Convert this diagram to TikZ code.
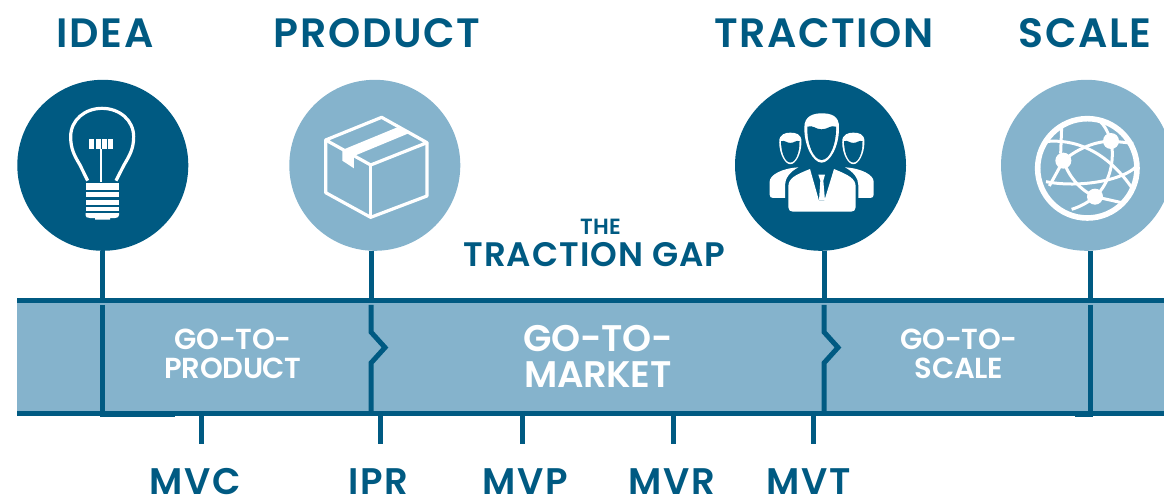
\documentclass[tikz,border=0pt]{standalone}
\usepackage{fontspec}
\setmainfont{Poppins SemiBold}
\definecolor{navy}{HTML}{005A82}
\definecolor{sky}{HTML}{85B3CC}
\newcommand{\fs}[3]{\fontsize{#1}{#2}\selectfont\addfontfeature{LetterSpace=#3}}
\tikzset{
  disc/.style={circle,minimum size=171pt,inner sep=0pt,draw=none},
  darkdisc/.style={disc,fill=navy},
  lightdisc/.style={disc,fill=sky},
  rail/.style={draw=navy,line width=5pt},
  icon/.style={draw=white,line width=3.2pt},
  heading/.style={text=navy,inner sep=0pt,anchor=base,font=\fs{41}{41}{4}},
  metric/.style={text=navy,inner sep=0pt,anchor=base,font=\fs{37}{37}{5}},
  phase/.style={text=white,inner sep=0pt,align=center,font=\fs{29}{29}{-1}},
  bigphase/.style={text=white,inner sep=0pt,align=center,font=\fs{37}{36.5}{-1}},
}
\begin{document}
\begin{tikzpicture}[x=1pt,y=-1pt]
\useasboundingbox (0,0) rectangle (1164,501);
% band
\fill[sky] (17,300) rectangle (1164,414);
\draw[rail] (17,300.5) -- (1164,300.5);
\draw[rail] (17,413.5) -- (1164,413.5);
% discs
\node[darkdisc] (ideaC) at (102.8,165.3) {};
\node[lightdisc] (prodC) at (374.8,165.3) {};
\node[darkdisc] (tracC) at (820.5,165.3) {};
\node[lightdisc] (scalC) at (1086.5,165.3) {};
% coordinates on the band
\coordinate (ideaT) at (102.7,298);
\coordinate (prodT) at (371,298);
\coordinate (tracT) at (824,298);
\coordinate (scalT) at (1090.7,298);
\draw[rail] (ideaC.south -| ideaT) -- (ideaT);
\draw[rail] (prodC.south -| prodT) -- (prodT);
\draw[rail] (tracC.south -| tracT) -- (tracT);
\draw[rail] (scalC.south -| scalT) -- (scalT);
\draw[rail] (102.7,304.8) -- (102.7,414) (100.2,414) -- (175,414);
\draw[rail,miter limit=6] (371,304.8) -- (371,332) -- (385,347.5) -- (371,363) -- (371,414);
\draw[rail,miter limit=6] (824,304.8) -- (824,332) -- (838,347.5) -- (824,363) -- (824,414);
\draw[rail] (1090.7,304.8) -- (1090.7,414) (1075,414) -- (1093.2,414);
% headings
\node[heading] (tIdea) at (105,47) {IDEA};
\node[heading] (tProd) at (377,47) {PRODUCT};
\node[heading] (tTrac) at (824,47) {TRACTION};
\node[heading] (tScal) at (1085,47) {SCALE};
\node[text=navy,inner sep=0pt,anchor=base,font=\fs{22}{22}{1.5}] (tThe) at (600.5,234) {THE};
\node[text=navy,inner sep=0pt,anchor=base,font=\fs{34}{34}{3}] (tGap) at (594.5,266) {TRACTION GAP};
% phases
\node[phase] (p1) at (233,354) {GO-TO-\\PRODUCT};
\node[bigphase] (p2) at (598,356.5) {GO-TO-\\MARKET};
\node[phase] (p3) at (959,354) {GO-TO-\\SCALE};
% ticks and metrics
\node[metric] (mMVC) at (195.5,494) {MVC};
\node[metric] (mIPR) at (378.5,494) {IPR};
\node[metric] (mMVP) at (525,494) {MVP};
\node[metric] (mMVR) at (672,494) {MVR};
\node[metric] (mMVT) at (809,494) {MVT};
\foreach \n/\x in {a/201,b/380,c/522,d/673,e/813.7}{
  \coordinate (u\n) at (\x,416);
  \coordinate (v\n) at (\x,443.5);
  \draw[rail] (u\n) -- (v\n);
}
% bulb
\begin{scope}[shift={(0,70)},x=.3333pt,y=-.3333pt]
\draw[icon] (263,332) -- (240,285) .. controls (222,255) and (212,235) .. (212,200) .. controls (212,150) and (255,115) .. (306,115) .. controls (358,115) and (401,150) .. (401,200) .. controls (401,235) and (390,255) .. (372,285) -- (348,332);
\draw[icon,line width=1.8pt] (304,237) -- (304,336);
\foreach \x in {268,287,306,325}{\fill[white] (\x,208) rectangle ++(15,29);}
\end{scope}
\foreach \a/\b/\l/\r in {182.5/190/86/118.5,192/197/85.5/119,199.5/204.5/85.5/119,206.5/211/85.5/119}{
  \fill[white] (\l,\a) rectangle (\r,\b);
}
\fill[white] (85.5,213) -- (119,213) -- (119,215) .. controls (119,217) and (117.5,218) .. (115,218) -- (110,218) -- (110,219.5) -- (95,219.5) -- (95,218) -- (90,218) .. controls (87,218) and (85.5,217) .. (85.5,215) -- cycle;
% box
\begin{scope}[shift={(280,70)},x=.3333pt,y=-.3333pt]
\draw[icon,line join=round] (137,210) -- (305,142) -- (441,218) -- (272,285) -- cycle;
\draw[icon,line join=round] (137,210) -- (137,368) -- (272,442) -- (441,378) -- (441,218);
\draw[icon] (272,285) -- (272,442);
\fill[white] (187,240) -- (352,172) -- (386,190) -- (222,258) -- (222,295) -- (187,272) -- cycle;
\end{scope}
% people
\begin{scope}[shift={(765,110)},x=.3333pt,y=-.3333pt]
\def\facepath{(118,55) .. controls (116,15) and (150,10) .. (170,10) .. controls (195,10) and (224,15) .. (222,55) .. controls (222,110) and (195,158) .. (170,158) .. controls (145,158) and (118,110) .. (118,55) -- cycle}
\def\skinpath{(127,50) .. controls (145,44) and (150,58) .. (170,58) .. controls (190,58) and (195,44) .. (213,50) .. controls (215,100) and (195,150) .. (170,150) .. controls (145,150) and (125,100) .. (127,50) -- cycle}
\begin{scope}[shift={(-32.8,61.6)},x=.2133pt,y=-.2133pt]
  \fill[white] \facepath;
  \fill[navy] \skinpath;
\end{scope}
\begin{scope}[shift={(156.2,61.6)},x=.2133pt,y=-.2133pt]
  \fill[white] \facepath;
  \fill[navy] \skinpath;
\end{scope}
\fill[white] \facepath;
\fill[navy] \skinpath;
% side bodies
\fill[white] (14,215) .. controls (14,195) and (50,175) .. (100,172) .. controls (75,185) and (60,205) .. (60,225) -- (60,264) -- (24,264) .. controls (17,264) and (14,260) .. (14,254) -- cycle;
\fill[white] (326,215) .. controls (326,195) and (290,175) .. (240,172) .. controls (265,185) and (280,205) .. (280,225) -- (280,264) -- (316,264) .. controls (323,264) and (326,260) .. (326,254) -- cycle;
% main body
\fill[white] (70,230) .. controls (70,205) and (90,195) .. (135,177) -- (162,272) -- (178,272) -- (207,177) .. controls (250,195) and (272,205) .. (272,230) -- (272,292) .. controls (272,301) and (266,305) .. (258,305) -- (84,305) .. controls (76,305) and (70,301) .. (70,292) -- cycle;
\fill[white] (160,194) -- (180,194) -- (175,212) -- (180,272) -- (162,272) -- (166,212) -- cycle;
\end{scope}
% globe
\begin{scope}[shift={(1030,110)},x=.3333pt,y=-.3333pt]
\draw[white,line width=5.6pt] (172,175) circle [x radius=149,y radius=-149];
\begin{scope}[white,line width=3pt]
\draw (45,95) .. controls (130,85) and (230,120) .. (310,240);
\draw (48,215) .. controls (150,235) and (280,210) .. (318,170);
\draw (100,152) .. controls (150,110) and (200,95) .. (243,93);
\draw (100,152) .. controls (120,210) and (160,245) .. (195,260);
\draw (243,93) .. controls (255,150) and (240,220) .. (195,260);
\draw (100,152) -- (58,228);
\draw (95,50) -- (92,130);
\draw (205,30) .. controls (225,45) and (235,70) .. (243,93);
\draw (243,93) -- (310,100);
\draw (195,260) .. controls (170,280) and (150,290) .. (125,298);
\draw (195,260) -- (275,278);
\end{scope}
\foreach \x/\y in {100/152,243/93,195/260}{\fill[white] (\x,\y) circle [x radius=24,y radius=-24];}
\end{scope}
\end{tikzpicture}
\end{document}
